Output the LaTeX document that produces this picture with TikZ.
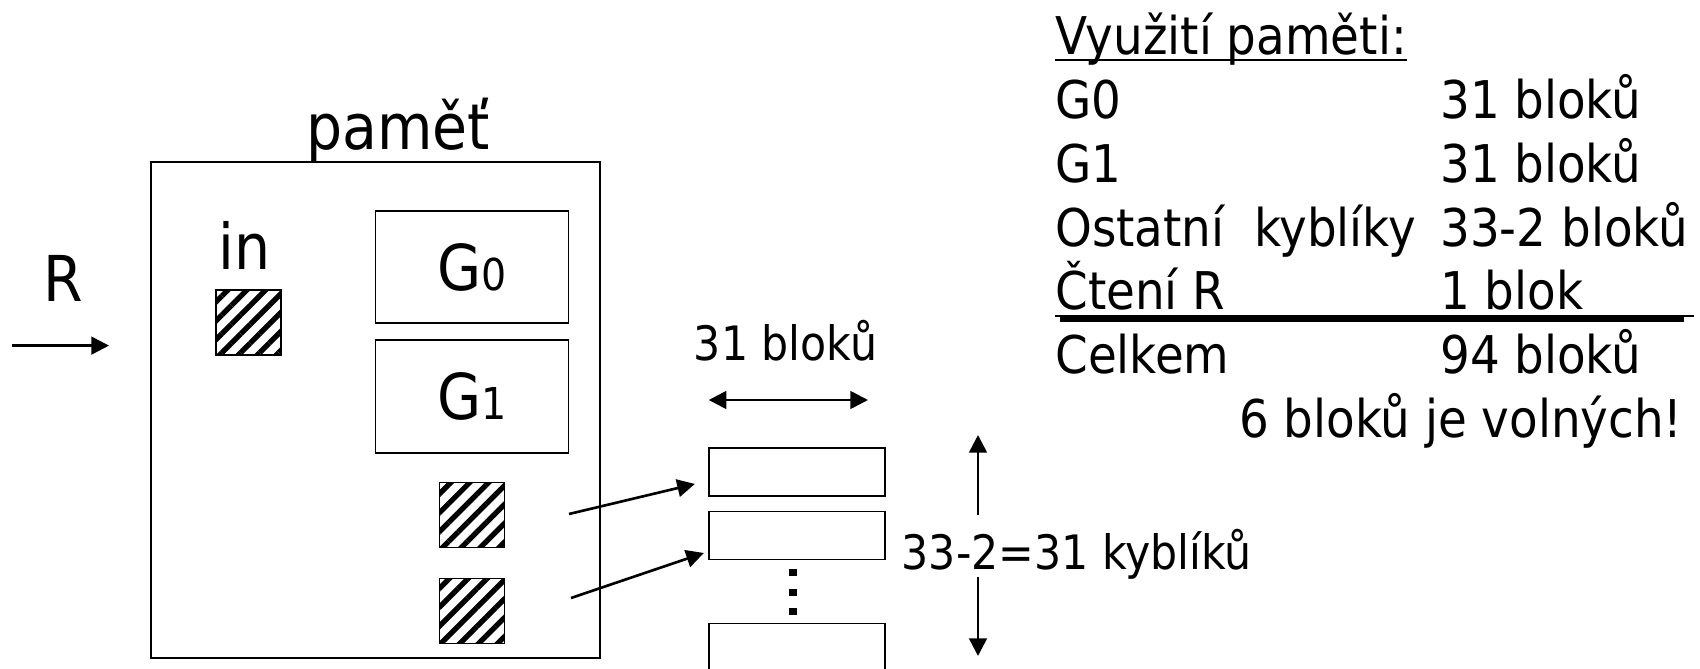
\documentclass[tikz,border=0pt]{standalone}
\usepackage{fontspec}
\setmainfont{DejaVu Sans Condensed}
\usetikzlibrary{positioning, arrows.meta, patterns.meta}
\newcommand{\bigfont}{\fontsize{36pt}{43pt}\selectfont}
\newcommand{\tabfont}{\fontsize{29.6pt}{36pt}\selectfont}
\newcommand{\smallfont}{\fontsize{27pt}{33pt}\selectfont}
\newcommand{\subfont}{\fontsize{25pt}{30pt}\selectfont}
\tikzset{
    box/.style={rectangle, draw=black, line width=1.1pt, inner sep=0pt},
    hatch/.style={box, minimum size=1.3cm, pattern={Lines[angle=45, distance=7.6pt, line width=3pt]}},
    bucket/.style={box, minimum width=3.52cm, minimum height=0.96cm},
    gbox/.style={box, minimum width=3.86cm, minimum height=2.25cm, font=\bigfont},
    lbl/.style={inner sep=0pt, anchor=base, font=\bigfont},
    tab/.style={inner sep=0pt, anchor=base west, font=\tabfont},
    small/.style={inner sep=0pt, anchor=base, font=\smallfont},
    arr/.style={line width=1.5pt, -{Triangle[length=10pt, width=10pt]}},
    darr/.style={line width=1.5pt, {Triangle[length=10pt, width=10pt]}-{Triangle[length=10pt, width=10pt]}},
}
\begin{document}
\begin{tikzpicture}[x=0.02cm, y=-0.02cm]
    \useasboundingbox (0,0) rectangle (1700,669);
    \clip (0,0) rectangle (1700,669);
    % memory
    \node [box, minimum width=8.98cm, minimum height=9.92cm] (mem) at (375.8,410) {};
    \node [lbl] (mname) at (398,149.5) {paměť};
    \node [lbl] (inname) at (244.5,269) {in};
    \node [hatch] (hin) at (248.3,322.5) {};
    \node [gbox] (g0) at (472,267) {G{\subfont 0}};
    \node [gbox, below=0.3cm of g0] (g1) {G{\subfont 1}};
    \node [hatch] (h1) at (472,515) {};
    \node [hatch] (h2) at (472,611) {};
    % input R
    \node [lbl] (rname) at (62.8,301) {R};
    \coordinate (rin) at (12,345.6);
    \coordinate (rout) at (109,345.6);
    \draw[arr] (rin) -- (rout);
    % buckets
    \node [bucket] (b1) at (796.8,472) {};
    \node [bucket] (b2) at (796.8,535.5) {};
    \node [bucket] (b3) at (796.8,647.5) {};
    \foreach \i in {0,1,2}
        \fill (789,569+19.5*\i) rectangle (797,576+19.5*\i);
    \coordinate (s1) at (569,514);
    \coordinate (s2) at (571,598);
    \draw[arr] (s1) -- ([xshift=-0.26cm, yshift=0.26cm]b1.south west);
    \draw[arr] (s2) -- ([xshift=-0.08cm, yshift=0.15cm]b2.south west);
    \node [small] (width) at (785.5,360.7) {31 bloků};
    \coordinate (wl) at (708.7,400);
    \coordinate (wr) at (868,400);
    \draw[darr] (wl) -- (wr);
    \node [small, anchor=base west] (count) at (901.5,569) {33-2=31 kyblíků};
    \coordinate (vt) at (978,435);
    \coordinate (vm1) at (978,515);
    \coordinate (vm2) at (978,577);
    \coordinate (vb) at (978,656);
    \draw[arr] (vm1) -- (vt);
    \draw[arr] (vm2) -- (vb);
    % table
    \node [tab] (head) at (1055,55) {Využití paměti:};
    \draw[line width=1.1pt] ([yshift=-2.8pt]head.base west) -- ([yshift=-2.8pt]head.base east);
    \foreach \a/\b [count=\i] in {G0/31 bloků, G1/31 bloků, Ostatní~ kyblíky/33-2 bloků, Čtení R/1 blok} {
        \node [tab] (l\i) at (1055,55+63.7*\i) {\a};
        \node [tab] (r\i) at (1440,55+63.7*\i) {\b};
    }
    \draw[line width=1.4pt] (1055,316) -- (1694,316);
    \draw[line width=2.8pt] (1060,319.5) -- (1684,319.5);
    \node [tab] (l5) at (1055,373.5) {Celkem};
    \node [tab] (r5) at (1440,373.5) {94 bloků};
    \node [tab] (free) at (1239,437.2) {6 bloků je volných!};
\end{tikzpicture}
\end{document}
